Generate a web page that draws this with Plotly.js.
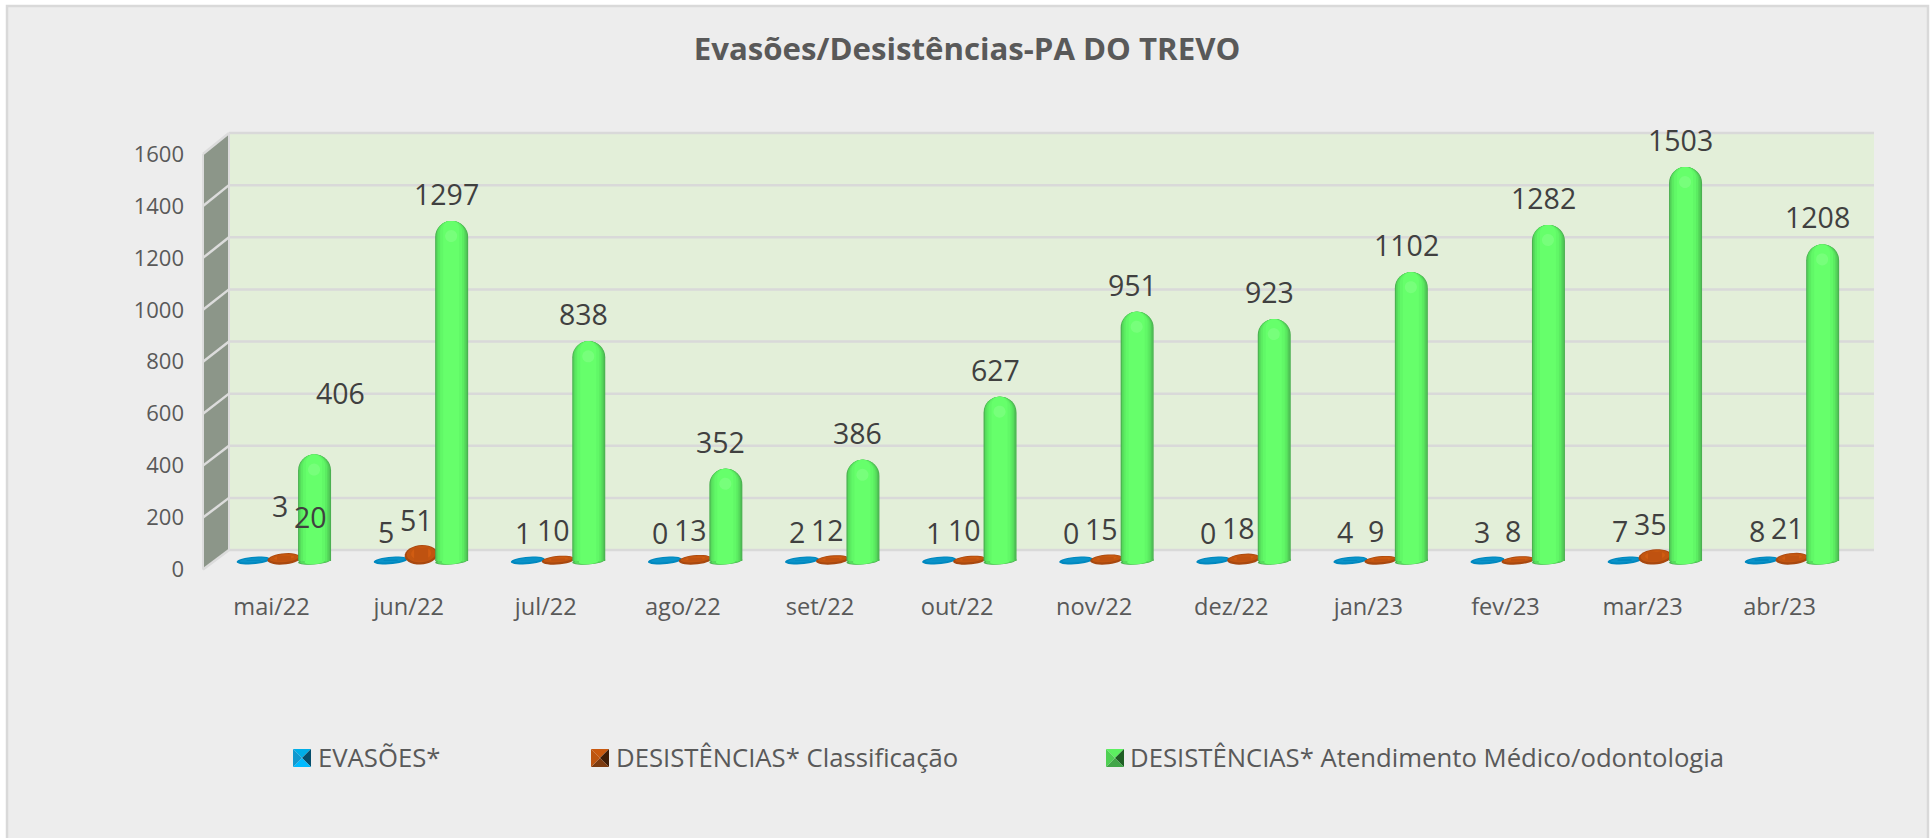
<!DOCTYPE html>
<html><head><meta charset="utf-8">
<script src="https://cdn.plot.ly/plotly-3.0.1.min.js"></script>
<style>html,body{margin:0;padding:0;background:#fff;overflow:hidden}#c{width:1932px;height:838px}</style>
</head><body><div id="c"></div>
<script>
const categories = ["mai/22","jun/22","jul/22","ago/22","set/22","out/22","nov/22","dez/22","jan/23","fev/23","mar/23","abr/23"];
const evasoes = [3,5,1,0,2,1,0,0,4,3,7,8];
const desistClass = [20,51,10,13,12,10,15,18,9,8,35,21];
const desistMedico = [406,1297,838,352,386,627,951,923,1102,1282,1503,1208];
const yTicks = [0,200,400,600,800,1000,1200,1400,1600];
const seriesNames = ["EVASÕES*","DESISTÊNCIAS* Classificação","DESISTÊNCIAS* Atendimento Médico/odontologia"];

const W=1932,H=838, FONT='"Open Sans", sans-serif';
const px=x=>x/W, py=y=>1-y/H;
const CAT=137.1, FRONT_L=203, BACK_L=229, BACK_R=1874;
const BAR0=561, BARK=0.2621, BARTOP=115, BARBOTTOM=580;   // pixel scale of the bars axis
const yUnit=BARK, xUnit=CAT;
const OFF={blue:-18/CAT, orange:12.5/CAT, green:43/CAT};
const backY=v=>550-v*(417/1600), frontY=v=>569.5-v*(415.5/1600);

const idx=categories.map((_,i)=>i);
const traces=[];
traces.push({type:'bar',name:seriesNames[0],x:idx.map(i=>i+OFF.blue),y:evasoes,width:14/CAT,marker:{color:'#0088bf'},showlegend:false,hoverinfo:'y+name'});
traces.push({type:'bar',name:seriesNames[1],x:idx.map(i=>i+OFF.orange),y:desistClass,width:14/CAT,marker:{color:'#bf5210'},showlegend:false,hoverinfo:'y+name'});
// column body: nested bars give the cylinder shading
[[33,'#4bb050',0],[31,'#50c656',0],[29,'#56dc5c',-0.5],[26,'#5bec61',-0.5],[22,'#61f867',-0.5],[16,'#66ff6b',-0.5]].forEach((l,k)=>{
  traces.push({type:'bar',name:seriesNames[2],x:idx.map(i=>i+OFF.green+l[2]/CAT),y:desistMedico,width:l[0]/CAT,
    marker:{color:l[1],cornerradius:l[0]/2,line:{width:0}},showlegend:false,hoverinfo:k?'skip':'y+name'});
});
// carries the front-wall tick axis
traces.push({type:'scatter',mode:'markers',x:[0],y:[0],yaxis:'y2',marker:{opacity:0},showlegend:false,hoverinfo:'skip'});

const shapes=[];
const poly=(pts,fill,layer)=>shapes.push({type:'path',xref:'paper',yref:'paper',layer:layer||'below',
  path:'M'+pts.map(p=>px(p[0])+','+py(p[1])).join('L')+'Z',fillcolor:fill,line:{width:0}});
const line=(x0,y0,x1,y1,c,w)=>shapes.push({type:'line',xref:'paper',yref:'paper',layer:'below',x0:px(x0),y0:py(y0),x1:px(x1),y1:py(y1),line:{color:c,width:w}});
// frame
shapes.push({type:'rect',xref:'paper',yref:'paper',layer:'below',x0:px(7),x1:px(1928),y0:py(6),y1:py(850),fillcolor:'#ededed',line:{color:'#d9d9d9',width:2.5}});
// walls
poly([[BACK_L,backY(1600)],[BACK_R,backY(1600)],[BACK_R,backY(0)],[BACK_L,backY(0)]],'#e3efd9');
poly([[FRONT_L,frontY(1600)],[BACK_L,backY(1600)],[BACK_L,backY(0)],[FRONT_L,frontY(0)]],'#8c9689');
yTicks.forEach(v=>{
  line(BACK_L,backY(v),BACK_R,backY(v),'#d9d9d9',2.5);
  line(FRONT_L,frontY(v),BACK_L,backY(v),'#dcdcdc',2.5);
});
line(FRONT_L,frontY(0),FRONT_L,frontY(1600),'#dcdcdc',2);
line(BACK_L,backY(0),BACK_L,backY(1600),'#dcdcdc',2);

// tilted ellipses on the bars' own axes
function ell(cx,v,dyPx,wPx,hPx,fill,layer){
  const t=-5*Math.PI/180,pts=[];
  for(let a=0;a<360;a+=12){
    const r=a*Math.PI/180,ex=wPx/2*Math.cos(r),ey=hPx/2*Math.sin(r);
    const dx=ex*Math.cos(t)-ey*Math.sin(t),dy=ex*Math.sin(t)+ey*Math.cos(t);
    pts.push((cx+dx/xUnit)+','+(v-(dy+dyPx)/yUnit));
  }
  shapes.push({type:'path',xref:'x',yref:'y',layer:layer||'below',path:'M'+pts.join('L')+'Z',fillcolor:fill,line:{width:0}});
}
idx.forEach(i=>{
  ell(i+OFF.blue,0,-0.5,34,7.5,'#0088bf');
  ell(i+OFF.blue+0.3/CAT,0,-1,28,4.5,'#0a93c9');
  const v=desistClass[i], h=Math.max(8,v*yUnit+6);
  ell(i+OFF.orange,v/2,0.5,33,h,'#a8480f');
  ell(i+OFF.orange,v/2,-0.3,29,h-3,'#c25510');
  ell(i+OFF.orange,v/2,-0.8,20,Math.max(3,h-7),'#d05c12');
  ell(i+OFF.green,0,0,33,7,'#4bb050');
  ell(i+OFF.green,0,0,29,6.5,'#56dc5c');
  ell(i+OFF.green,0,0.2,20,6,'#66ff6b');
  ell(i+OFF.green-0.5/CAT,desistMedico[i],15,12,12,'rgba(165,255,165,0.28)','above');
});

// legend swatches
function swatch(x,y,s,c){
  const m=[x+s/2,y+s/2],a=[x,y],b=[x+s,y],d=[x+s,y+s],e=[x,y+s];
  poly([a,b,m],c[0],'above');poly([b,d,m],c[1],'above');poly([d,e,m],c[2],'above');poly([e,a,m],c[3],'above');
}
const LEG_Y=749, SW=18;
swatch(293,LEG_Y,SW,['#00aee8','#064e6c','#00baff','#1299cf']);
swatch(591,LEG_Y,SW,['#c9590f','#3e1c06','#7c3b10','#bd5510']);
swatch(1106,LEG_Y,SW,['#5cf060','#1f5f24','#42a648','#4fd053']);

// annotations: data labels + legend text
const ann=[];
const GRAY='#404040';
function label(xv,v,xs,ys){
  ann.push({xref:'x',yref:'y',x:xv,y:v,text:String(v),showarrow:false,xanchor:'center',yanchor:'middle',
    xshift:xs,yshift:ys,font:{family:FONT,size:28.5,color:GRAY}});
}
idx.forEach(i=>{
  const first=i===0, xs=first?26:-5;
  label(i+OFF.blue,evasoes[i],xs,first?54:28);
  label(i+OFF.orange,desistClass[i],xs,first?39:28);
  label(i+OFF.green,desistMedico[i],xs,first?62:27);
});
[[318,0],[616,1],[1130,2]].forEach(p=>ann.push({xref:'paper',yref:'paper',x:px(p[0]),y:py(757),xanchor:'left',yanchor:'middle',
  xshift:-2,showarrow:false,text:seriesNames[p[1]],font:{family:FONT,size:25.7,color:'#595959'}}));

const layout={
  width:W,height:H,margin:{l:0,r:0,t:0,b:0},paper_bgcolor:'#ffffff',plot_bgcolor:'rgba(0,0,0,0)',
  barmode:'overlay',showlegend:false,
  title:{text:'Evasões/Desistências-PA DO TREVO',xref:'paper',yref:'paper',x:967/W,y:py(49),xanchor:'center',yanchor:'middle',
    font:{family:FONT,size:31.2,weight:700,color:'#595959'}},
  xaxis:{domain:[px(FRONT_L),px(BACK_R)],range:[-0.5,-0.5+(BACK_R-FRONT_L)/CAT],tickmode:'array',tickvals:idx,ticktext:categories,
    showgrid:false,zeroline:false,showline:false,ticks:'',ticklabelstandoff:10,tickfont:{family:FONT,size:23.6,color:'#595959'}},
  yaxis:{domain:[py(BARBOTTOM),py(BARTOP)],range:[-(BARBOTTOM-BAR0)/BARK,(BAR0-BARTOP)/BARK],showgrid:false,zeroline:false,showline:false,showticklabels:false,ticks:''},
  yaxis2:{domain:[py(frontY(0)),py(frontY(1600))],range:[0,1600],anchor:'x',side:'left',tickmode:'array',tickvals:yTicks,ticktext:yTicks.map(String),
    showgrid:false,zeroline:false,showline:false,ticks:'',ticklabelstandoff:18,tickfont:{family:FONT,size:22,color:'#595959'}},
  shapes:shapes,annotations:ann
};
Plotly.newPlot('c',traces,layout,{displayModeBar:false,staticPlot:true});
</script></body></html>
